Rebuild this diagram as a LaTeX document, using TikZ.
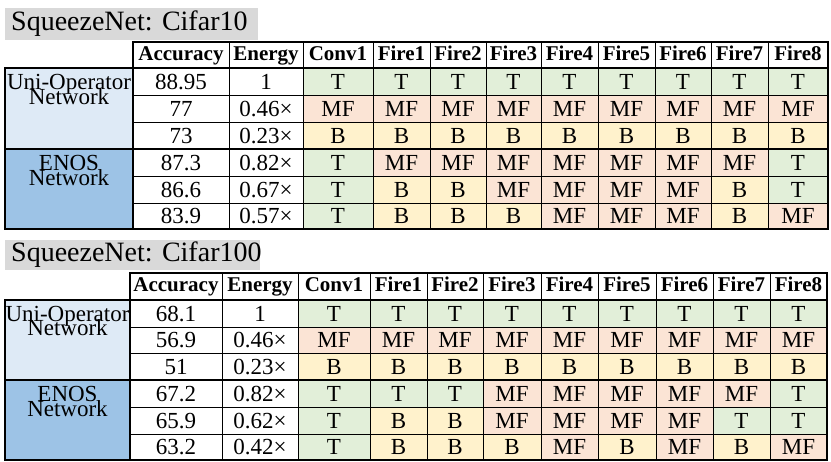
\documentclass[tikz,border=0pt]{standalone}
\usepackage{fontspec}
\setmainfont{Liberation Serif}
\definecolor{cT}{HTML}{E2EFD9}
\definecolor{cMF}{HTML}{FBE4D5}
\definecolor{cB}{HTML}{FFF2CC}
\definecolor{cL}{HTML}{DEEAF6}
\definecolor{cE}{HTML}{9DC3E6}
\definecolor{cG}{HTML}{D9D9D9}
\tikzset{
 txt/.style={font=\fontsize{23}{24}\selectfont,inner sep=0pt,text height=15.5pt,text depth=0pt},
 hdr/.style={font=\bfseries\fontsize{21}{22}\selectfont,inner sep=0pt,text height=14.5pt,text depth=4pt},
 ttl/.style={font=\fontsize{28}{28}\selectfont,inner sep=0pt,anchor=west},
 frame/.style={draw=black,line width=2pt}
}
\newcommand{\tcell}[7]{%
 \filldraw[fill=#5,draw=black,line width=0.9pt] (#1,-#3) rectangle (#2,-#4);
 \node[#7] at ({(#1+#2)/2},{-(#3+#4)/2}) {#6};}
\begin{document}
\begin{tikzpicture}[x=1pt,y=1pt]
\useasboundingbox (0,0) rectangle (831,-462);
\fill[cG] (5,-8) rectangle (258,-40);
\node[ttl] (t1) at (11,-24) {SqueezeNet: Cifar10};
\fill[cG] (5,-240) rectangle (260,-270);
\node[ttl] (t2) at (11,-255) {SqueezeNet: Cifar100};
\foreach \tab/\lx/\ax/\ex/\cols/\rows/\data in {
 1/5/133/229/{303,373,430,486,541,598,655,711,768,828}/{42,68,95,122,149,176,203,229}/{
  88.95/1/{T,T,T,T,T,T,T,T,T},
  77/0.46×/{MF,MF,MF,MF,MF,MF,MF,MF,MF},
  73/0.23×/{B,B,B,B,B,B,B,B,B},
  87.3/0.82×/{T,MF,MF,MF,MF,MF,MF,MF,T},
  86.6/0.67×/{T,B,B,MF,MF,MF,MF,B,T},
  83.9/0.57×/{T,B,B,B,MF,MF,MF,B,MF}},
 2/5/130/222/{298,370,427,483,541,598,656,713,770,827}/{273,300,327,353,380,407,434,460}/{
  68.1/1/{T,T,T,T,T,T,T,T,T},
  56.9/0.46×/{MF,MF,MF,MF,MF,MF,MF,MF,MF},
  51/0.23×/{B,B,B,B,B,B,B,B,B},
  67.2/0.82×/{T,T,T,MF,MF,MF,MF,MF,T},
  65.9/0.62×/{T,B,B,MF,MF,MF,MF,T,T},
  63.2/0.42×/{T,B,B,B,MF,B,MF,B,MF}}}{
  \edef\C{{\cols}}\edef\R{{\rows}}
  \pgfmathsetmacro{\yT}{\R[0]}\pgfmathsetmacro{\yH}{\R[1]}
  \pgfmathsetmacro{\yM}{\R[4]}\pgfmathsetmacro{\yE}{\R[7]}
  \pgfmathsetmacro{\xc}{\C[0]}\pgfmathsetmacro{\xe}{\C[9]}
  \tcell{\ax}{\ex}{\yT}{\yH}{white}{Accuracy}{hdr}
  \tcell{\ex}{\xc}{\yT}{\yH}{white}{Energy}{hdr}
  \foreach \h [count=\i from 0] in {Conv1,Fire1,Fire2,Fire3,Fire4,Fire5,Fire6,Fire7,Fire8}{
    \pgfmathsetmacro{\xa}{\C[\i]}\pgfmathsetmacro{\xb}{\C[\i+1]}
    \tcell{\xa}{\xb}{\yT}{\yH}{white}{\h}{hdr}}
  \pgfmathsetmacro{\ya}{\R[2]}\pgfmathsetmacro{\yb}{\R[5]}
  \fill[cL] (\lx,-\yH) rectangle (\ax,-\yM);
  \fill[cE] (\lx,-\yM) rectangle (\ax,-\yE);
  \node[txt] at ({(\lx+\ax)/2},{-(\yH+\ya)/2}) {Uni-Operator};
  \node[txt] at ({(\lx+\ax)/2},{-(\ya+\R[3])/2+12}) {Network};
  \node[txt] at ({(\lx+\ax)/2},{-(\yM+\yb)/2}) {ENOS};
  \node[txt] at ({(\lx+\ax)/2},{-(\yb+\R[6])/2+12}) {Network};
  \foreach \acc/\en/\ops [count=\r from 1] in \data {
    \pgfmathsetmacro{\ra}{\R[\r]}\pgfmathsetmacro{\rb}{\R[\r+1]}
    \tcell{\ax}{\ex}{\ra}{\rb}{white}{\acc}{txt}
    \tcell{\ex}{\xc}{\ra}{\rb}{white}{\en}{txt}
    \foreach \op [count=\i from 0] in \ops {
      \pgfmathsetmacro{\xa}{\C[\i]}\pgfmathsetmacro{\xb}{\C[\i+1]}
      \tcell{\xa}{\xb}{\ra}{\rb}{c\op}{\op}{txt}}
  }
  \draw[frame] (\ax,-\yT) rectangle (\xe,-\yH);
  \draw[frame] (\lx,-\yH) rectangle (\xe,-\yE);
  \draw[frame] (\ax,-\yH) -- (\ax,-\yE);
  \draw[frame] (\lx,-\yM) -- (\xe,-\yM);
}
\end{tikzpicture}
\end{document}
